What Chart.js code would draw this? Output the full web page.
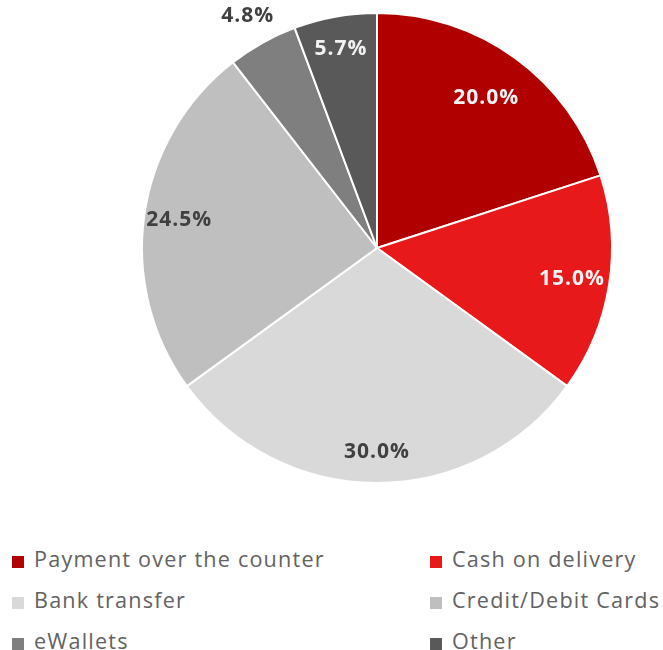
<!DOCTYPE html>
<html>
<head>
<meta charset="utf-8">
<script src="https://cdn.jsdelivr.net/npm/chart.js@4/dist/chart.umd.min.js"></script>
<style>
  html, body { margin: 0; padding: 0; background: #fff; }
  #wrap { position: relative; width: 663px; height: 650px; }
  #pie { position: absolute; left: 0; top: 0; }
  #legend { position: absolute; left: 0; top: 540px; width: 663px; font-family: "Open Sans", sans-serif; font-size: 21.6px; letter-spacing: 1.2px; color: #626262; }
  .item { position: absolute; height: 24px; line-height: 24px; white-space: nowrap; }
  .item i { display: inline-block; width: 12px; height: 12px; margin-right: 10px; vertical-align: -1px; }
</style>
</head>
<body>
<div id="wrap">
  <canvas id="pie" width="663" height="500"></canvas>
  <div id="legend"></div>
</div>
<script>
// Payment methods share, clockwise from 12 o'clock
var categories = ['Payment over the counter', 'Cash on delivery', 'Bank transfer', 'Credit/Debit Cards', 'eWallets', 'Other'];
var shares = [20.0, 15.0, 30.0, 24.5, 4.8, 5.7];
var colors = ['#b00000', '#e8191b', '#d9d9d9', '#bfbfbf', '#7f7f7f', '#595959'];
var labelColors = ['#f2f2f2', '#f2f2f2', '#404040', '#404040', '#404040', '#f2f2f2'];

// draws "xx.x%" inside each slice; small eWallets slice gets its label pushed outside
var labelRadius = [0.79, 0.84, 0.87, 0.85, 1.13, 0.86];
var sliceLabels = {
  id: 'sliceLabels',
  afterDatasetsDraw: function (chart) {
    var ctx = chart.ctx, meta = chart.getDatasetMeta(0);
    ctx.save();
    ctx.font = 'bold 21px "Open Sans", sans-serif';
    ctx.letterSpacing = '1px';
    ctx.textAlign = 'center';
    ctx.textBaseline = 'middle';
    meta.data.forEach(function (arc, i) {
      var mid = (arc.startAngle + arc.endAngle) / 2;
      var r = arc.outerRadius * labelRadius[i];
      ctx.fillStyle = labelColors[i];
      ctx.fillText(shares[i].toFixed(1) + '%', arc.x + Math.cos(mid) * r, arc.y + Math.sin(mid) * r);
    });
    ctx.restore();
  }
};

new Chart(document.getElementById('pie'), {
  type: 'pie',
  data: { labels: categories, datasets: [{ data: shares, backgroundColor: colors, borderColor: '#fff', borderWidth: 2 }] },
  options: {
    responsive: false, animation: false,
    layout: { padding: { left: 141, right: 50, top: 12, bottom: 16 } },
    plugins: { legend: { display: false }, tooltip: { enabled: false } }
  },
  plugins: [sliceLabels]
});

// two-column legend, row by row
var legend = document.getElementById('legend');
categories.forEach(function (name, i) {
  var d = document.createElement('div');
  d.className = 'item';
  d.style.left = (i % 2 ? 430 : 12) + 'px';
  d.style.top = (Math.floor(i / 2) * 41 + 7) + 'px';
  d.innerHTML = '<i style="background:' + colors[i] + '"></i>' + name;
  legend.appendChild(d);
});
</script>
</body>
</html>
